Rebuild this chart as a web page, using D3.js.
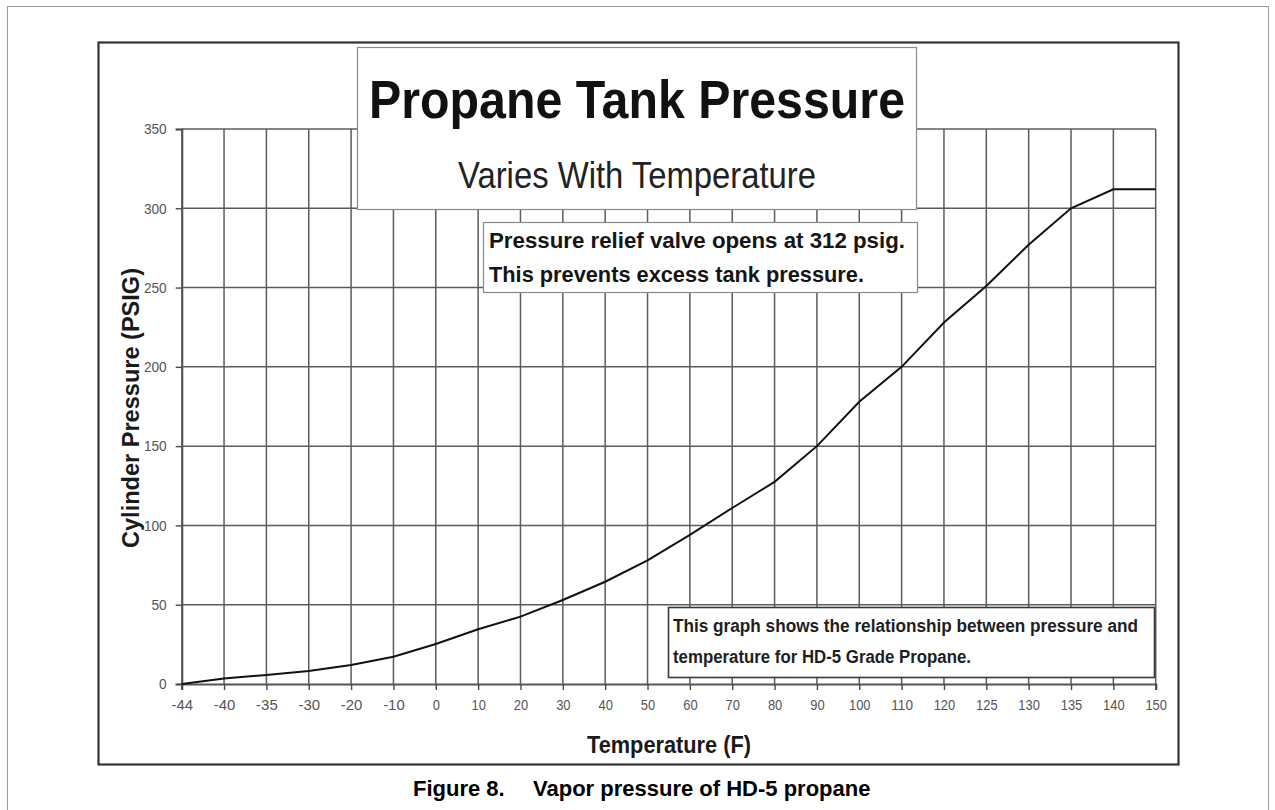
<!DOCTYPE html>
<html>
<head>
<meta charset="utf-8">
<script src="https://cdn.jsdelivr.net/npm/d3@7"></script>
<style>
  body { margin: 0; background: #fff; }
  svg { display: block; }
  .narrow { font-family: "Liberation Sans Narrow", "Arial Narrow", "Liberation Sans", Arial, sans-serif; }
</style>
</head>
<body>
<div id="chart"></div>
<script>
// temperature categories (F) - evenly spaced on the axis, like the original
const temps = ["-44", "-40", "-35", "-30", "-20", "-10", "0", "10", "20", "30", "40", "50",
    "60", "70", "80", "90", "100", "110", "120", "125", "130", "135", "140", "150"];

// cylinder pressure (psig)
const pressures = [0, 3.5, 5.7, 8.2, 12, 17.2, 25.2, 34.5, 42.5, 53, 64.5, 78,
    94, 111, 127.5, 150, 178, 200, 228, 251, 277, 300, 312, 312];

const yTicks = [0, 50, 100, 150, 200, 250, 300, 350];

const titleText = "Propane Tank Pressure";
const subtitleText = "Varies With Temperature";
const reliefLines = ["Pressure relief valve opens at 312 psig.", "This prevents excess tank pressure."];
const noteLines = ["This graph shows the relationship between pressure and", "temperature for HD-5 Grade Propane."];
const captionParts = ["Figure 8.", "Vapor pressure of HD-5 propane"];

function renderChart() {
    const W = 1275, H = 810;

    const svg = d3.select("#chart").append("svg")
        .attr("width", W)
        .attr("height", H);

    // outer page frame
    svg.append("rect")
        .attr("x", 7.5).attr("y", 6.5)
        .attr("width", 1261).attr("height", 820)
        .attr("fill", "none").attr("stroke", "#9a9a9a").attr("stroke-width", 1);

    // chart frame
    svg.append("rect")
        .attr("x", 98.5).attr("y", 42.5)
        .attr("width", 1080).attr("height", 722)
        .attr("fill", "#fff").attr("stroke", "#333").attr("stroke-width", 2.2);

    const x = d3.scalePoint()
        .domain(temps)
        .range([181.7, 1155.7]);

    const y = d3.scaleLinear()
        .domain([0, 350])
        .range([684, 129]);

    const g = svg.append("g");

    // grid
    g.append("g")
        .selectAll("line")
        .data(temps.slice(1))
        .join("line")
        .attr("x1", d => x(d)).attr("x2", d => x(d))
        .attr("y1", y(350)).attr("y2", y(0))
        .attr("stroke", "#5c5c5c").attr("stroke-width", 1.5);

    g.append("g")
        .selectAll("line")
        .data(yTicks.slice(1))
        .join("line")
        .attr("x1", x.range()[0]).attr("x2", x.range()[1])
        .attr("y1", d => y(d)).attr("y2", d => y(d))
        .attr("stroke", "#5c5c5c").attr("stroke-width", 1.5);

    // axes
    const xAxis = g.append("g")
        .attr("transform", `translate(0,${y(0)})`)
        .call(d3.axisBottom(x).tickSize(6).tickPadding(6));
    const yAxis = g.append("g")
        .attr("transform", `translate(${x.range()[0]},0)`)
        .call(d3.axisLeft(y).tickValues(yTicks).tickSize(6).tickPadding(9));

    [xAxis, yAxis].forEach(a => {
        a.select(".domain").attr("stroke", "#555").attr("stroke-width", 2.2);
        a.selectAll(".tick line").attr("stroke", "#4a4a4a").attr("stroke-width", 1.4);
        a.selectAll(".tick text")
            .attr("class", "narrow")
            .attr("fill", "#555")
            .style("font-size", "15px");
    });
    xAxis.selectAll(".tick text").attr("dy", "0.9em")
        .attr("textLength", d => d.length * 7.2).attr("lengthAdjust", "spacingAndGlyphs");
    yAxis.selectAll(".tick text")
        .attr("textLength", d => String(d).length * 7.6).attr("lengthAdjust", "spacingAndGlyphs");

    // the pressure curve
    const line = d3.line()
        .x((d, i) => x(temps[i]))
        .y(d => y(d));

    g.append("path")
        .datum(pressures)
        .attr("d", line)
        .attr("fill", "none")
        .attr("stroke", "#111")
        .attr("stroke-width", 2);

    // title box
    g.append("rect")
        .attr("x", 357.5).attr("y", 47.5)
        .attr("width", 559).attr("height", 162)
        .attr("fill", "#fff").attr("stroke", "#8a8a8a").attr("stroke-width", 1.2);

    g.append("text")
        .attr("class", "narrow")
        .attr("x", 637).attr("y", 118)
        .attr("text-anchor", "middle")
        .attr("textLength", 536).attr("lengthAdjust", "spacingAndGlyphs")
        .style("font-size", "54px").style("font-weight", "bold")
        .attr("fill", "#111")
        .text(titleText);

    g.append("text")
        .attr("class", "narrow")
        .attr("x", 637).attr("y", 188)
        .attr("text-anchor", "middle")
        .attr("textLength", 358).attr("lengthAdjust", "spacingAndGlyphs")
        .style("font-size", "36px")
        .attr("fill", "#222")
        .text(subtitleText);

    // relief valve note
    g.append("rect")
        .attr("x", 483.5).attr("y", 222.5)
        .attr("width", 434).attr("height", 70)
        .attr("fill", "#fff").attr("stroke", "#8a8a8a").attr("stroke-width", 1.2);

    g.append("g")
        .selectAll("text")
        .data(reliefLines)
        .join("text")
        .attr("class", "narrow")
        .attr("x", 489)
        .attr("y", (d, i) => 248 + i * 34)
        .attr("textLength", (d, i) => i === 0 ? 416 : 375)
        .attr("lengthAdjust", "spacingAndGlyphs")
        .style("font-size", "22px").style("font-weight", "bold")
        .attr("fill", "#151515")
        .text(d => d);

    // explanation box
    g.append("rect")
        .attr("x", 668.5).attr("y", 607.5)
        .attr("width", 486).attr("height", 70)
        .attr("fill", "#fff").attr("stroke", "#3a3a3a").attr("stroke-width", 1.6);

    g.append("g")
        .selectAll("text")
        .data(noteLines)
        .join("text")
        .attr("class", "narrow")
        .attr("x", 673)
        .attr("y", (d, i) => 632 + i * 31)
        .attr("textLength", (d, i) => i === 0 ? 465 : 298)
        .attr("lengthAdjust", "spacingAndGlyphs")
        .style("font-size", "18px").style("font-weight", "bold")
        .attr("fill", "#1e1e1e")
        .text(d => d);

    // axis titles
    g.append("text")
        .attr("class", "narrow")
        .attr("transform", "translate(139,408) rotate(-90)")
        .attr("text-anchor", "middle")
        .attr("textLength", 280).attr("lengthAdjust", "spacingAndGlyphs")
        .style("font-size", "24px").style("font-weight", "bold")
        .attr("fill", "#1a1a1a")
        .text("Cylinder Pressure (PSIG)");

    g.append("text")
        .attr("class", "narrow")
        .attr("x", 669).attr("y", 753)
        .attr("text-anchor", "middle")
        .attr("textLength", 164).attr("lengthAdjust", "spacingAndGlyphs")
        .style("font-size", "24px").style("font-weight", "bold")
        .attr("fill", "#1a1a1a")
        .text("Temperature (F)");

    // figure caption
    svg.append("g")
        .selectAll("text")
        .data(captionParts)
        .join("text")
        .attr("x", (d, i) => i === 0 ? 413 : 533)
        .attr("y", 796)
        .style("font-family", "'Liberation Sans', Arial, sans-serif")
        .style("font-size", "22px").style("font-weight", "bold")
        .attr("fill", "#000")
        .text(d => d);
}

renderChart();
</script>
</body>
</html>
